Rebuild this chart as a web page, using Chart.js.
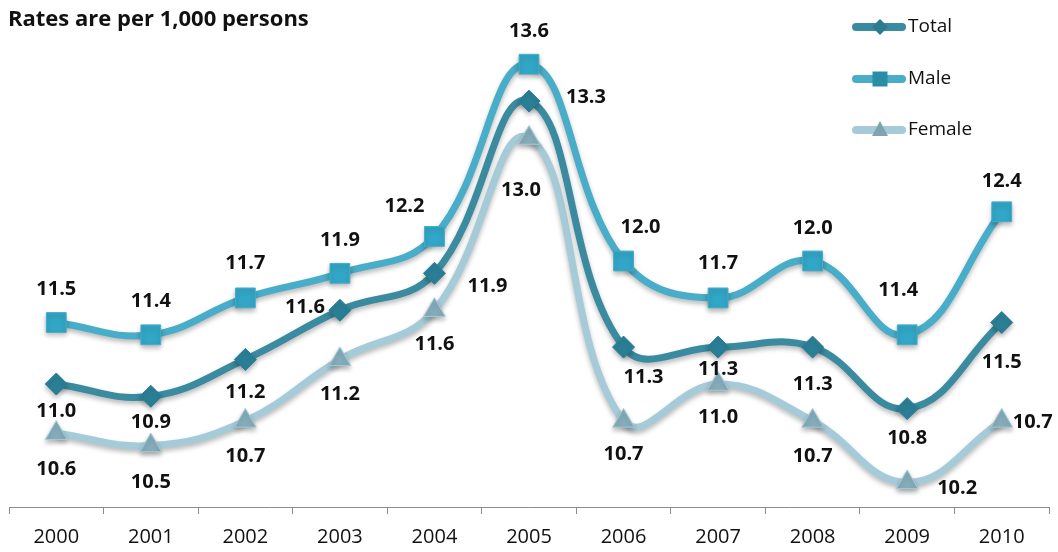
<!DOCTYPE html>
<html>
<head>
<meta charset="utf-8">
<script src="https://cdn.jsdelivr.net/npm/chart.js@4"></script>
<style>
  body { margin: 0; background: #fff; }
  #wrap { width: 1058px; height: 552px; }
</style>
</head>
<body>
<div id="wrap"><canvas id="linechart" width="1058" height="552"></canvas></div>
<script>
// data
var years = ['2000', '2001', '2002', '2003', '2004', '2005', '2006', '2007', '2008', '2009', '2010'];
var total  = [11.0, 10.9, 11.2, 11.6, 11.9, 13.3, 11.3, 11.3, 11.3, 10.8, 11.5];
var male   = [11.5, 11.4, 11.7, 11.9, 12.2, 13.6, 12.0, 11.7, 12.0, 11.4, 12.4];
var female = [10.6, 10.5, 10.7, 11.2, 11.6, 13.0, 10.7, 11.0, 10.7, 10.2, 10.7];

// where each value label sits relative to its point (dx, dy)
var totalLabelPos  = [[0,27],[0,26],[0,33],[-35,-3],[53,13],[57,-4],[20,30],[0,22],[0,37],[0,30],[0,40]];
var maleLabelPos   = [[0,-33],[0,-34],[0,-35],[0,-33],[-30,-30],[0,-33],[17,-34],[0,-35],[0,-33],[-9,-45],[0,-31]];
var femaleLabelPos = [[0,36],[0,37],[0,35],[0,35],[0,34],[-8,52],[0,33],[0,33],[0,35],[50,6],[31,1]];

var FONT = '"Open Sans", Lato, sans-serif';

// drop shadow under each series
var shadowPlugin = {
  id: 'shadow',
  beforeDatasetDraw: function (chart) {
    var ctx = chart.ctx;
    ctx.save();
    ctx.shadowColor = 'rgba(0,0,0,0.28)';
    ctx.shadowBlur = 5;
    ctx.shadowOffsetY = 3;
  },
  afterDatasetDraw: function (chart) {
    chart.ctx.restore();
  }
};

// value labels
var labelPlugin = {
  id: 'valueLabels',
  afterDatasetsDraw: function (chart) {
    var ctx = chart.ctx;
    ctx.save();
    ctx.font = 'bold 20px ' + FONT;
    ctx.fillStyle = '#111';
    ctx.textAlign = 'center';
    ctx.textBaseline = 'middle';
    chart.data.datasets.forEach(function (ds, i) {
      var meta = chart.getDatasetMeta(i);
      meta.data.forEach(function (pt, j) {
        var off = ds.labelPos[j];
        ctx.fillText(ds.data[j].toFixed(1), pt.x + off[0], pt.y + off[1]);
      });
    });
    ctx.restore();
  }
};

function drawMarker(ctx, style, x, y) {
  ctx.beginPath();
  if (style === 'rect') {
    ctx.rect(x - 7.5, y - 7.5, 15, 15);
  } else if (style === 'rectRot') {
    ctx.moveTo(x, y - 8); ctx.lineTo(x + 8, y); ctx.lineTo(x, y + 8); ctx.lineTo(x - 8, y); ctx.closePath();
  } else {
    ctx.moveTo(x, y - 9); ctx.lineTo(x + 8, y + 6); ctx.lineTo(x - 8, y + 6); ctx.closePath();
  }
  ctx.fill();
}

// title and legend
var decorPlugin = {
  id: 'decor',
  afterDraw: function (chart) {
    var ctx = chart.ctx;
    ctx.save();
    ctx.fillStyle = '#111';
    ctx.font = 'bold 22px ' + FONT;
    ctx.textBaseline = 'middle';
    ctx.textAlign = 'left';
    ctx.fillText('Rates are per 1,000 persons', 8, 20);

    var rows = [27, 79, 130];
    chart.data.datasets.forEach(function (ds, i) {
      var y = rows[i];
      ctx.strokeStyle = ds.borderColor;
      ctx.lineWidth = 8;
      ctx.lineCap = 'round';
      ctx.beginPath();
      ctx.moveTo(856, y);
      ctx.lineTo(902, y);
      ctx.stroke();
      ctx.fillStyle = ds.legendMarker;
      drawMarker(ctx, ds.pointStyle, 880, y);
      ctx.fillStyle = '#111';
      ctx.font = '19px ' + FONT;
      ctx.fillText(ds.label, 908, y);
    });
    ctx.restore();
  }
};

document.addEventListener('DOMContentLoaded', function () {
  var data = {
    labels: years,
    datasets: [{
      label: 'Total',
      data: total,
      labelPos: totalLabelPos,
      legendMarker: '#2a7a90',
      borderColor: '#3a8ba0',
      borderWidth: 7,
      pointStyle: 'rectRot',
      pointRadius: 11,
      pointBackgroundColor: '#2a7f96',
      pointBorderColor: '#2a7f96',
      pointBorderWidth: 1
    }, {
      label: 'Male',
      data: male,
      labelPos: maleLabelPos,
      legendMarker: '#2a8da8',
      borderColor: '#47adc8',
      borderWidth: 7,
      pointStyle: 'rect',
      pointRadius: 14,
      pointBackgroundColor: '#32a6c6',
      pointBorderColor: '#47adc8',
      pointBorderWidth: 1
    }, {
      label: 'Female',
      data: female,
      labelPos: femaleLabelPos,
      legendMarker: '#7fa3b1',
      borderColor: '#a6cbd8',
      borderWidth: 7,
      pointStyle: 'triangle',
      pointRadius: 12.5,
      pointBackgroundColor: '#86adbb',
      pointBorderColor: '#a6cbd8',
      pointBorderWidth: 1
    }]
  };

  var config = {
    type: 'line',
    data: data,
    options: {
      responsive: false,
      animation: false,
      layout: { autoPadding: false, padding: { left: 9, right: 9, top: 15, bottom: 0 } },
      elements: { line: { tension: 0.42 } },
      plugins: {
        legend: { display: false },
        tooltip: { enabled: false }
      },
      scales: {
        x: {
          offset: true,
          grid: {
            offset: true,
            drawOnChartArea: false,
            color: '#8c8c8c',
            tickLength: 7
          },
          border: { color: '#8c8c8c', width: 1 },
          ticks: {
            color: '#111',
            padding: 11,
            font: { family: FONT, size: 20 }
          },
          afterFit: function (scale) {
            scale.height = 45;
            scale.paddingLeft = 0;
            scale.paddingRight = 0;
          }
        },
        y: {
          display: false,
          min: 10,
          max: 14
        }
      }
    },
    plugins: [shadowPlugin, labelPlugin, decorPlugin]
  };

  var ctx = document.getElementById('linechart').getContext('2d');
  new Chart(ctx, config);
});
</script>
</body>
</html>
